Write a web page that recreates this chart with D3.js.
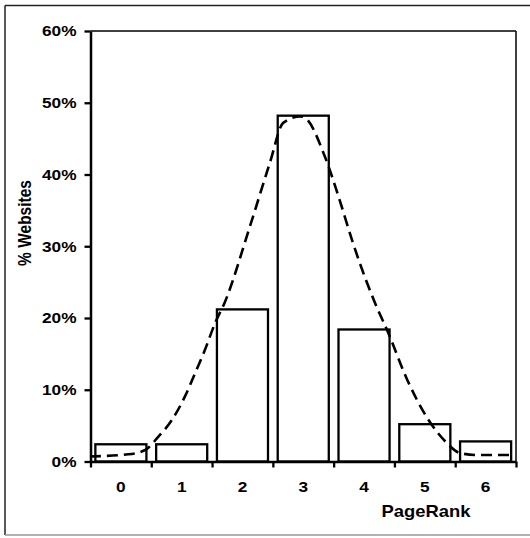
<!DOCTYPE html>
<html>
<head>
<meta charset="utf-8">
<script src="https://cdn.jsdelivr.net/npm/d3@7"></script>
<style>
  html, body { margin: 0; padding: 0; background: #fff; }
  svg { display: block; }
  text { font-family: "Liberation Sans", Arial, sans-serif; font-weight: bold; fill: #000; }
</style>
</head>
<body>
<svg id="chart" width="530" height="538"></svg>
<script>
// ---- data ----
const categories = ["0", "1", "2", "3", "4", "5", "6"];
const websitePct = [2.4, 2.4, 21.2, 48.2, 18.4, 5.2, 2.8];
// fitted (dashed) curve: x in PageRank units, y in %
const curveX = [-0.51, 0.12, 0.40, 0.61, 0.84, 1.05, 1.22, 1.38, 1.55, 1.71, 2.12, 2.45, 2.67, 2.95, 3.03, 3.36, 3.60, 3.82, 4.21, 4.38, 4.71, 5.03, 5.36, 5.57, 5.85, 6.43];
const curveY = [0.7, 1.0, 1.6, 3.4, 5.8, 9.0, 12.3, 15.5, 19.3, 22.2, 32.7, 41.6, 47.2, 48.1, 47.9, 42.4, 36.4, 30.4, 21.5, 18.3, 11.4, 6.2, 2.6, 1.2, 0.9, 0.9];
const yTicks = [0, 10, 20, 30, 40, 50, 60];
const xTitle = "PageRank";
const yTitle = "% Websites";

// ---- layout ----
const L = 90.5, R = 516, T = 31, B = 461.5;
const SX = 1.15; // horizontal text stretch of the original

const svg = d3.select("#chart");

// outer frame
svg.append("line").attr("x1", 5).attr("x2", 530).attr("y1", 5.5).attr("y2", 5.5)
  .attr("stroke", "#222").attr("stroke-width", 1.5);
svg.append("line").attr("x1", 5).attr("x2", 5).attr("y1", 5.5).attr("y2", 535)
  .attr("stroke", "#222").attr("stroke-width", 1.5);
svg.append("line").attr("x1", 5).attr("x2", 530).attr("y1", 535).attr("y2", 535)
  .attr("stroke", "#999").attr("stroke-width", 1.5);

const x = d3.scaleBand().domain(categories).range([L, R]).paddingInner(0.16).paddingOuter(0.08);
const xl = d3.scaleLinear().domain([-0.5, categories.length - 0.5]).range([L, R]);
const y = d3.scaleLinear().domain([0, 60]).range([B, T]);

// plot frame top/right
svg.append("line").attr("x1", L).attr("x2", R).attr("y1", T).attr("y2", T)
  .attr("stroke", "#000").attr("stroke-width", 1.5);
svg.append("line").attr("x1", R).attr("x2", R).attr("y1", T).attr("y2", B)
  .attr("stroke", "#000").attr("stroke-width", 1.5);

// bars
svg.append("g").selectAll("rect").data(categories).join("rect")
  .attr("x", d => x(d))
  .attr("y", (d, i) => y(websitePct[i]))
  .attr("width", x.bandwidth())
  .attr("height", (d, i) => B - y(websitePct[i]))
  .attr("fill", "#fff").attr("stroke", "#000").attr("stroke-width", 2.3);

// dashed curve
const line = d3.line().x(d => xl(d[0])).y(d => y(d[1])).curve(d3.curveMonotoneX);
svg.append("path").datum(curveX.map((v, i) => [v, curveY[i]]))
  .attr("d", line).attr("fill", "none").attr("stroke", "#000")
  .attr("stroke-width", 2.6).attr("stroke-dasharray", "11,6");

// y axis
const yAxis = d3.axisLeft(y).tickValues(yTicks).tickFormat(d => d + "%").tickSizeInner(6).tickSizeOuter(0).tickPadding(8);
const gy = svg.append("g").attr("transform", `translate(${L},0)`).call(yAxis);
gy.select(".domain").attr("stroke", "#000").attr("stroke-width", 2.5);
gy.selectAll(".tick line").attr("stroke", "#000").attr("stroke-width", 2.3);
gy.selectAll(".tick text").attr("font-size", 15)
  .attr("font-family", "Liberation Sans, Arial, sans-serif").attr("font-weight", "bold")
  .attr("transform", `scale(${SX},1)`).attr("x", -14 / SX);

// x axis: boundary ticks
const gx = svg.append("g").attr("transform", `translate(0,${B})`)
  .call(d3.axisBottom(xl).tickValues(d3.range(-0.5, categories.length, 1)).tickSizeInner(6).tickSizeOuter(0).tickFormat(""));
gx.select(".domain").attr("stroke", "#000").attr("stroke-width", 2.5);
gx.selectAll(".tick line").attr("stroke", "#000").attr("stroke-width", 2.3);

// x labels
const gxl = svg.append("g").attr("transform", `translate(0,${B})`)
  .call(d3.axisBottom(x).tickSize(0).tickPadding(20));
gxl.select(".domain").remove();
gxl.selectAll(".tick text").attr("font-size", 15)
  .attr("font-family", "Liberation Sans, Arial, sans-serif").attr("font-weight", "bold")
  .attr("transform", `scale(${SX},1)`);

// titles
svg.append("text").attr("text-anchor", "middle").attr("font-size", 16)
  .attr("transform", `translate(426,517) scale(${SX},1)`).text(xTitle);
svg.append("text").attr("text-anchor", "middle").attr("font-size", 15.5)
  .attr("transform", `translate(31,223) rotate(-90) scale(1,${SX})`).text(yTitle);
</script>
</body>
</html>
